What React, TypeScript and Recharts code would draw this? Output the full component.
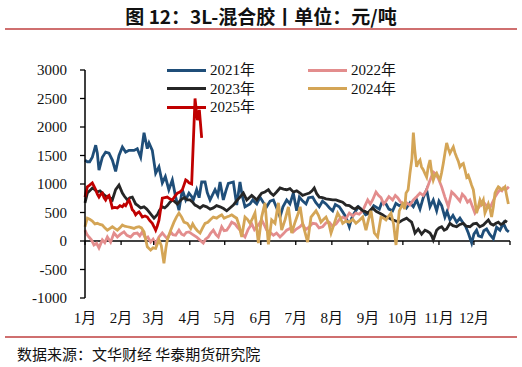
import React from 'react';
import { LineChart, Line, XAxis, YAxis, ReferenceLine } from 'recharts';

const monthTicks = [0, 31, 59, 90, 120, 151, 181, 212, 243, 273, 304, 334, 365];
const monthLabels = ['1月', '2月', '3月', '4月', '5月', '6月', '7月', '8月', '9月', '10月', '11月', '12月'];
const yTicks = [-1000, -500, 0, 500, 1000, 1500, 2000, 2500, 3000];

const s2021: [number, number][] = [
  [0, 1420], [2, 1390], [4, 1390], [6.3, 1470], [9.2, 1680], [10.6, 1540], [12, 1245], [14.9, 1470], [17.7, 1560], [20.6, 1540],
  [23.5, 1420], [26.3, 1220], [29.2, 1500], [32.1, 1650], [34.9, 1560], [37.8, 1590], [42.1, 1590], [44.9, 1620], [47.8, 1470],
  [50.7, 1900], [53.5, 1620], [55, 1720], [57.8, 1590], [60.7, 1190], [63.5, 1300], [66.4, 1020], [69, 1130], [72, 900], [75, 1070],
  [77.9, 770], [80.7, 540], [83.6, 900], [86.5, 720], [89.3, 840], [92, 770], [93, 720], [95.9, 900], [98, 760], [100.2, 1035],
  [103.1, 1035], [105, 850], [107.4, 720], [111.7, 900], [114, 800], [116, 1035], [118.8, 720], [121, 880], [123.1, 1010],
  [127.4, 1035], [130.3, 630], [133.1, 1035], [135, 800], [137.4, 600], [141.7, 650], [144, 720], [147.5, 650], [150.3, 770],
  [153, 680], [156, 600], [159, 700], [161.8, 720], [165, 560], [167.5, 420], [170, 600], [173.2, 720], [176, 650], [178.9, 840],
  [181.8, 530], [184.1, 770], [187, 700], [189.8, 650], [192, 760], [195.5, 770], [198, 680], [201.2, 600], [204, 700], [207, 650],
  [210, 580], [212.7, 530], [215, 640], [218.4, 600], [221, 520], [224.1, 420], [227, 250], [229, 400], [231.3, 490], [235, 600],
  [238.5, 530], [241, 460], [244.2, 490], [248, 620], [252.8, 560], [255, 680], [258.5, 650], [261, 560], [264.2, 530], [267, 660],
  [269.9, 620], [273, 650], [276, 580], [279.1, 670], [282, 600], [284.8, 720], [287.7, 560], [290.5, 760], [293.4, 900],
  [296.3, 600], [299.1, 720], [302, 530], [304, 700], [306.3, 620], [309.1, 420], [311, 520], [313.4, 370], [316, 450],
  [319.2, 330], [322, 400], [324.9, 310], [327, 250], [329.2, 140], [332.1, -35], [334, 120], [336.3, 190], [338, 90],
  [340.6, 70], [342.5, 180], [344.9, 210], [347.5, 120], [350.7, 40], [353.5, 240], [356.4, 190], [359.3, 310], [362.1, 190],
  [364, 160],
];

const s2022: [number, number][] = [
  [0, 190], [1.5, 120], [3.4, 70], [5.5, 20], [7.7, -70], [10, -40], [12, -120], [14.9, 20], [17, -30], [19.2, 70], [22, -20],
  [24.9, 140], [27.8, 70], [30.5, 120], [33.5, 160], [36, 100], [39.2, 70], [42, 130], [44.9, 140], [47, 90], [49.2, 160],
  [52.1, 40], [54, 70], [56.4, -20], [58.5, 30], [60.7, -50], [63.5, 70], [66.4, 140], [68.5, 90], [70.7, 40], [73.6, 160],
  [75.5, 110], [77.9, 100], [80.7, 190], [83, 120], [85, 100], [87, 150], [89.3, 160], [92, 120], [95.9, 70], [98.5, 20],
  [101.6, -35], [103.5, 30], [105.9, 70], [108, 140], [110.2, 190], [112.5, 110], [114.5, 70], [117.4, 250], [119.5, 180],
  [121.7, 190], [124, 260], [126, 330], [128.8, 300], [131, 240], [133.1, 190], [135, 120], [137.4, 70], [140, 200],
  [143.2, 300], [145.5, 200], [147.5, 250], [149.5, 300], [151.7, 370], [154, 280], [156, 190], [159, 150], [161.8, 100],
  [164.5, 140], [167.5, 70], [170.5, 130], [173.2, 190], [176, 220], [178.9, 160], [181.5, 210], [184.7, 250], [186.9, 300],
  [189.5, 200], [192.7, 250], [195.5, 310], [198.4, 300], [201, 230], [204.1, 250], [207, 320], [209.8, 330], [212.5, 260],
  [215.6, 300], [218.5, 380], [221.3, 420], [224, 390], [227, 490], [230, 440], [232.7, 490], [235.5, 470], [238.5, 530],
  [240.5, 620], [242.8, 720], [245, 650], [247, 720], [249.9, 860], [252, 800], [254.2, 760], [256.5, 650], [258.5, 700],
  [261, 780], [264.2, 720], [266.5, 800], [268.5, 760], [270.5, 700], [272.8, 650], [274.5, 600], [276.2, 670], [279, 630],
  [282, 720], [285, 780], [287.7, 840], [290.5, 800], [293.4, 900], [296, 1050], [299.1, 1210], [301, 1180], [303.4, 1100],
  [306.3, 950], [309.1, 770], [312, 600], [314.9, 860], [317, 820], [319.2, 770], [322, 700], [324, 820], [326.3, 770],
  [328.5, 680], [330.6, 720], [332.5, 620], [334.9, 490], [337, 560], [339.2, 620], [341.5, 700], [343.5, 650], [345.5, 600],
  [347.8, 580], [350, 680], [352.1, 770], [354.5, 850], [356.4, 900], [358, 880], [359.3, 930], [361.5, 900], [364, 950],
];

const s2023: [number, number][] = [
  [0, 670], [2, 840], [4, 880], [6.3, 930], [8.5, 900], [10.6, 860], [12.8, 880], [14.9, 840], [17, 800], [19.2, 770],
  [21.5, 760], [23.5, 720], [26.3, 900], [29.2, 980], [32.1, 840], [34, 780], [36.4, 720], [38.5, 760], [40.6, 770],
  [43.5, 650], [45.5, 620], [47.8, 580], [50.7, 600], [53, 560], [55, 510], [57, 460], [59.3, 400], [62.1, 460], [64, 540],
  [66.4, 600], [68.5, 580], [70.7, 620], [73, 680], [75, 720], [77, 690], [79.3, 650], [81.5, 700], [83.6, 740], [85.5, 760],
  [87.9, 720], [90.2, 720], [92.5, 680], [94.5, 630], [96.5, 610], [98.8, 580], [101.5, 620], [104.5, 600], [107.5, 560],
  [110.2, 580], [113, 620], [116, 600], [119, 570], [121.7, 530], [124.5, 580], [127.4, 630], [130, 700], [133.1, 770],
  [136, 840], [138.9, 720], [141, 760], [143.2, 800], [145.5, 760], [147.5, 720], [149.5, 780], [151.7, 840], [154.5, 860],
  [157.5, 900], [159.5, 840], [161.8, 800], [164.5, 860], [167.5, 930], [170.5, 910], [173.2, 900], [176, 920], [178.9, 860],
  [181.8, 880], [184.7, 840], [186.9, 800], [189.5, 820], [192.7, 840], [195, 880], [196.9, 930], [199, 830], [201.2, 770],
  [204, 760], [207, 740], [210, 730], [212.7, 720], [215.5, 720], [218.4, 700], [221.3, 680], [224.1, 630], [227, 620],
  [229.9, 580], [232, 560], [234.2, 600], [236.5, 570], [238.5, 530], [240.5, 520], [242.8, 490], [245, 540], [247, 580],
  [250, 520], [252.8, 490], [255.5, 460], [258.5, 420], [261.5, 400], [264.2, 370], [267, 350], [269.9, 330], [273, 370],
  [276.2, 400], [278.5, 360], [280.5, 330], [282, 240], [283.4, 140], [286.2, 210], [289.1, 120], [292, 190], [294, 170],
  [296.3, 140], [298, 80], [299.1, 20], [302, 190], [304, 230], [306.3, 250], [308.5, 190], [310.6, 210], [313.4, 310],
  [316, 270], [319.2, 250], [322, 290], [324.9, 310], [327.5, 260], [330.6, 250], [333.5, 300], [336.3, 310], [339, 250],
  [342.1, 280], [344, 320], [346.4, 370], [348.5, 300], [350.7, 280], [353, 310], [355, 330], [357, 290], [359.3, 310],
  [361, 350], [362.5, 330],
];

const s2024: [number, number][] = [
  [0, 250], [2, 400], [4, 380], [6.3, 350], [8.5, 300], [10.6, 310], [12.8, 290], [14.9, 280], [17, 230], [19.2, 190],
  [21.5, 220], [23.5, 250], [25.5, 220], [27.8, 190], [30, 230], [32.1, 280], [34, 260], [36.4, 250], [39, 240], [42.1, 220],
  [44, 240], [46.4, 250], [48.5, 230], [50.7, 160], [52, 40], [53.5, -100], [56.4, -160], [58.5, -120], [60.7, -130],
  [63.5, 20], [65.5, -80], [67.8, -390], [69.5, -120], [70.7, 20], [73.6, 190], [76.4, 330], [78.5, 420], [80.7, 490],
  [83, 420], [85, 330], [87.9, 310], [90.8, 220], [92.5, 300], [94.5, 230], [96.5, 180], [98.8, 140], [101, 230],
  [103.1, 310], [105.5, 330], [107.4, 370], [110.2, 420], [113.1, 400], [115, 430], [117.4, 460], [119.5, 400], [121.7, 420],
  [124, 440], [126, 460], [128, 430], [130.3, 400], [132.5, 260], [134.6, 70], [137.4, 420], [139.5, 380], [141.7, 310],
  [144, 400], [146, 490], [148.9, -35], [151.7, 420], [154.6, 670], [157.5, -60], [160.3, 370], [163.2, 310], [166.1, 670],
  [168.9, 190], [171.8, 370], [174.7, 600], [177.5, 140], [180.4, 330], [183.2, 490], [184.8, 600], [186.9, 310],
  [191.2, -20], [194.1, 420], [198.4, 530], [200.5, 450], [202.7, 330], [205, 380], [207, 420], [209.5, 300], [211.3, 140],
  [214.1, 310], [217, 490], [219, 420], [221.3, 310], [224, 350], [227, 330], [230, 380], [232.7, 310], [235.5, 360],
  [238.5, 420], [241.3, 190], [243.5, 380], [245.6, 530], [248.5, 140], [251.3, 70], [254.2, 420], [256.5, 400],
  [258.5, 370], [260.5, 430], [262.8, 490], [265, 300], [267.1, -70], [269.9, 530], [272.8, 650], [274.5, 560], [275.7, 840],
  [277.5, 900], [279.1, 1190], [280.8, 1450], [282, 1900], [283.2, 1600], [284.8, 1300], [286.2, 1380], [287.7, 1420],
  [289, 1300], [290.5, 1250], [292, 1180], [293.4, 1120], [294.8, 1300], [296.3, 1420], [297.8, 1200], [299.1, 1070],
  [300.5, 1150], [302, 1190], [303.5, 1120], [304.9, 1070], [306.3, 1200], [307.7, 1360], [309.2, 1550], [310.6, 1720],
  [312, 1620], [313.4, 1540], [314.9, 1600], [316.3, 1650], [317.7, 1550], [319.2, 1470], [320.6, 1400], [322, 1300],
  [323.5, 1340], [324.9, 1360], [326.3, 1250], [327.8, 1120], [329.2, 1150], [330.6, 1070], [332, 980], [333.5, 900],
  [334.9, 700], [336.3, 490], [337.8, 600], [339.2, 720], [340.6, 650], [342.1, 720], [343.5, 490], [344.9, 560],
  [346.4, 650], [347.8, 560], [349.2, 420], [350.7, 600], [352.1, 840], [353.5, 900], [355, 950], [356.4, 930], [357.8, 900],
  [359.3, 920], [360.7, 950], [362.1, 800], [363.6, 650],
];

const s2025: [number, number][] = [
  [0, 770], [2, 950], [4, 980], [6.3, 1020], [7.8, 960], [9.2, 900], [10.6, 820], [12, 770], [13.5, 820], [14.9, 840],
  [16.3, 760], [17.7, 720], [19.2, 780], [20.6, 800], [22, 700], [23.5, 580], [25.5, 590], [27.8, 580], [30, 620],
  [32.1, 600], [33.5, 640], [34.9, 620], [36.4, 680], [37.8, 720], [39.2, 640], [40.6, 550], [42, 520], [43.5, 460],
  [44.9, 490], [46.4, 510], [47.8, 470], [49.2, 420], [51.5, 440], [53.5, 420], [55.5, 360], [57.8, 310], [59.3, 250],
  [60.7, 190], [62, 260], [63.5, 360], [65, 560], [66.4, 750], [68.5, 760], [70.7, 770], [72.8, 740], [75, 720], [77, 780],
  [79.3, 840], [81.5, 860], [83.6, 900], [85, 980], [86.5, 1070], [88, 1050], [89.3, 1020], [91.6, 1000], [94.5, 2500],
  [96.5, 2120], [98.2, 2300], [100.2, 1810],
];

const toRows = (pts: [number, number][]) => pts.map(([d, v]) => ({ d, v }));

const series = [
  { name: '2021年', color: '#1f4e79', pts: s2021 },
  { name: '2022年', color: '#e38d8d', pts: s2022 },
  { name: '2023年', color: '#262626', pts: s2023 },
  { name: '2024年', color: '#d4a556', pts: s2024 },
  { name: '2025年', color: '#c00000', pts: s2025 },
];

const W = 522;
const H = 367;
const PLOT_TOP = 70;
const PLOT_BOTTOM_MARGIN = 39;
const X_AXIS_H = 30;
const PLOT_H = H - PLOT_TOP - PLOT_BOTTOM_MARGIN - X_AXIS_H;
const Y_MIN = -1000;
const Y_MAX = 3000;
const zeroY = PLOT_TOP + (PLOT_H * (Y_MAX - 0)) / (Y_MAX - Y_MIN);
const SERIF = '"Liberation Serif", "Times New Roman", "Noto Sans CJK SC", serif';
const SANS = '"Noto Sans CJK SC", "Noto Sans", sans-serif';

function XTick(props: any) {
  const { x, payload } = props;
  const idx = monthTicks.indexOf(payload.value);
  const label = monthLabels[idx];
  const plotBottom = PLOT_TOP + PLOT_H;
  return (
    <g>
      <line x1={x} x2={x} y1={zeroY} y2={zeroY + 4} stroke="#000" strokeWidth={1.3} />
      {label ? (
        <text x={x} y={plotBottom + 25} textAnchor="middle" fontFamily={SERIF} fontSize={15} fill="#111">
          {label}
        </text>
      ) : null}
    </g>
  );
}

function LegendBox() {
  const item = (s: (typeof series)[number], left: number, top: number) => (
    <div
      key={s.name}
      style={{ position: 'absolute', left, top, display: 'flex', alignItems: 'center', height: 18 }}
    >
      <div style={{ width: 39, height: 3, background: s.color, marginRight: 4 }} />
      <span style={{ fontFamily: SERIF, fontSize: 15, color: '#111', lineHeight: '18px', whiteSpace: 'nowrap' }}>
        {s.name}
      </span>
    </div>
  );
  return (
    <div style={{ position: 'absolute', left: 167, top: 61, width: 260, height: 60 }}>
      {item(series[0], 0, 0)}
      {item(series[1], 141, 0)}
      {item(series[2], 0, 18.5)}
      {item(series[3], 141, 18.5)}
      {item(series[4], 0, 37)}
    </div>
  );
}

export default function App() {
  return (
    <div style={{ position: 'absolute', left: 0, top: 0, width: W, height: H, background: '#fff', overflow: 'hidden' }}>
      <div
        style={{
          position: 'absolute',
          left: 0,
          top: 3,
          width: W,
          textAlign: 'center',
          fontFamily: SANS,
          fontWeight: 700,
          fontSize: 19,
          lineHeight: '26px',
          color: '#111',
        }}
      >
        图 12：3L-混合胶丨单位：元/吨
      </div>
      <div style={{ position: 'absolute', left: 5, top: 28, width: 512, height: 2, background: '#cf6f6f' }} />
      <div style={{ position: 'absolute', left: 0, top: 0 }}>
        <LineChart width={W} height={H} margin={{ top: PLOT_TOP, right: 12, bottom: PLOT_BOTTOM_MARGIN, left: 0 }}>
          <XAxis
            dataKey="d"
            type="number"
            domain={[0, 365]}
            ticks={monthTicks}
            interval={0}
            axisLine={false}
            tickLine={false}
            height={X_AXIS_H}
            tick={<XTick />}
            allowDuplicatedCategory={false}
          />
          <YAxis
            type="number"
            domain={[Y_MIN, Y_MAX]}
            ticks={yTicks}
            interval={0}
            width={85}
            axisLine={{ stroke: '#000', strokeWidth: 1.5 }}
            tickLine={{ stroke: '#000', strokeWidth: 1.3 }}
            tickSize={5}
            tickMargin={13}
            tick={{ fontFamily: SERIF, fontSize: 15, fill: '#111' }}
          />
          <ReferenceLine y={0} stroke="#000" strokeWidth={1.5} />
          {series.map((s) => (
            <Line
              key={s.name}
              data={toRows(s.pts)}
              dataKey="v"
              name={s.name}
              type="linear"
              stroke={s.color}
              strokeWidth={2.8}
              dot={false}
              activeDot={false}
              isAnimationActive={false}
            />
          ))}
        </LineChart>
      </div>
      <LegendBox />
      <div style={{ position: 'absolute', left: 5, top: 336, width: 512, height: 2, background: '#cf6f6f' }} />
      <div
        style={{
          position: 'absolute',
          left: 17,
          top: 343,
          fontFamily: SANS,
          fontSize: 15,
          lineHeight: '22px',
          color: '#111',
          whiteSpace: 'nowrap',
        }}
      >
        数据来源：文华财经 华泰期货研究院
      </div>
    </div>
  );
}
